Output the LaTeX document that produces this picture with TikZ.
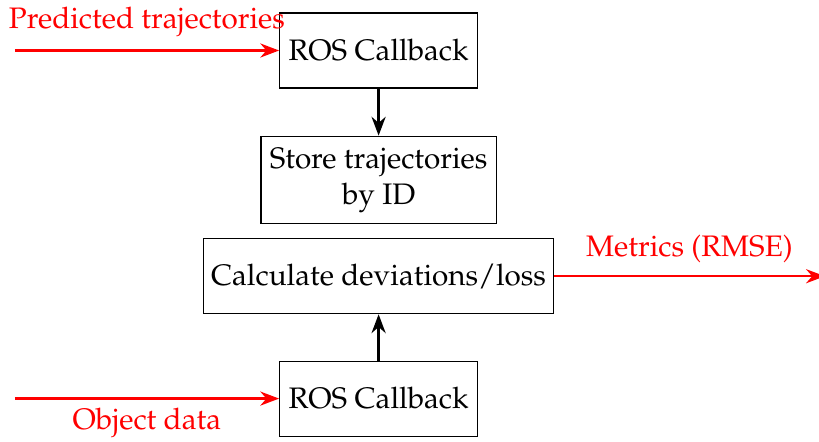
\documentclass[tikz,border=0pt]{standalone}
\usepackage[T1]{fontenc}
\usepackage{mathpazo}
\usepackage{xcolor}
\usepackage{tikz}
\usetikzlibrary{arrows.meta,positioning}

\begin{document}
\begin{tikzpicture}[
  font=\fontsize{10.4}{12.6}\selectfont,
  box/.style={draw, minimum height=0.925cm, inner xsep=2.6pt, inner ysep=4pt, align=center},
  flow/.style={->, thick},
  io/.style={->, thick, red},
  iolbl/.style={text=red, inner sep=4.5pt},
  >=Stealth
]
  \useasboundingbox (0,0) rectangle (10.10,-5.44);

  \node[box, minimum width=2.44cm] (rosA) at (4.669,-0.623) {ROS Callback};
  \node[box, minimum width=2.90cm, minimum height=1.04cm, below=0.58cm of rosA] (store) {Store trajectories\\by ID};
  \node[box, minimum width=4.30cm, below=0.17cm of store] (calc) {Calculate deviations/loss};
  \node[box, minimum width=2.44cm, below=0.57cm of calc] (rosB) {ROS Callback};

  \coordinate[left=3.26cm of rosA.west] (inA);
  \coordinate[left=3.26cm of rosB.west] (inB);
  \coordinate[right=3.34cm of calc.east] (out);

  \draw[flow] (rosA) -- (store);
  \draw[flow] (rosB) -- (calc);

  \draw[io] (inA) -- node[iolbl, above] (lblA) {Predicted trajectories} (rosA.west);
  \draw[io] (inB) -- node[iolbl, below, inner sep=3pt] (lblB) {Object data} (rosB.west);
  \draw[io] (calc.east) -- node[iolbl, above] (lblC) {Metrics (RMSE)} (out);
\end{tikzpicture}
\end{document}
